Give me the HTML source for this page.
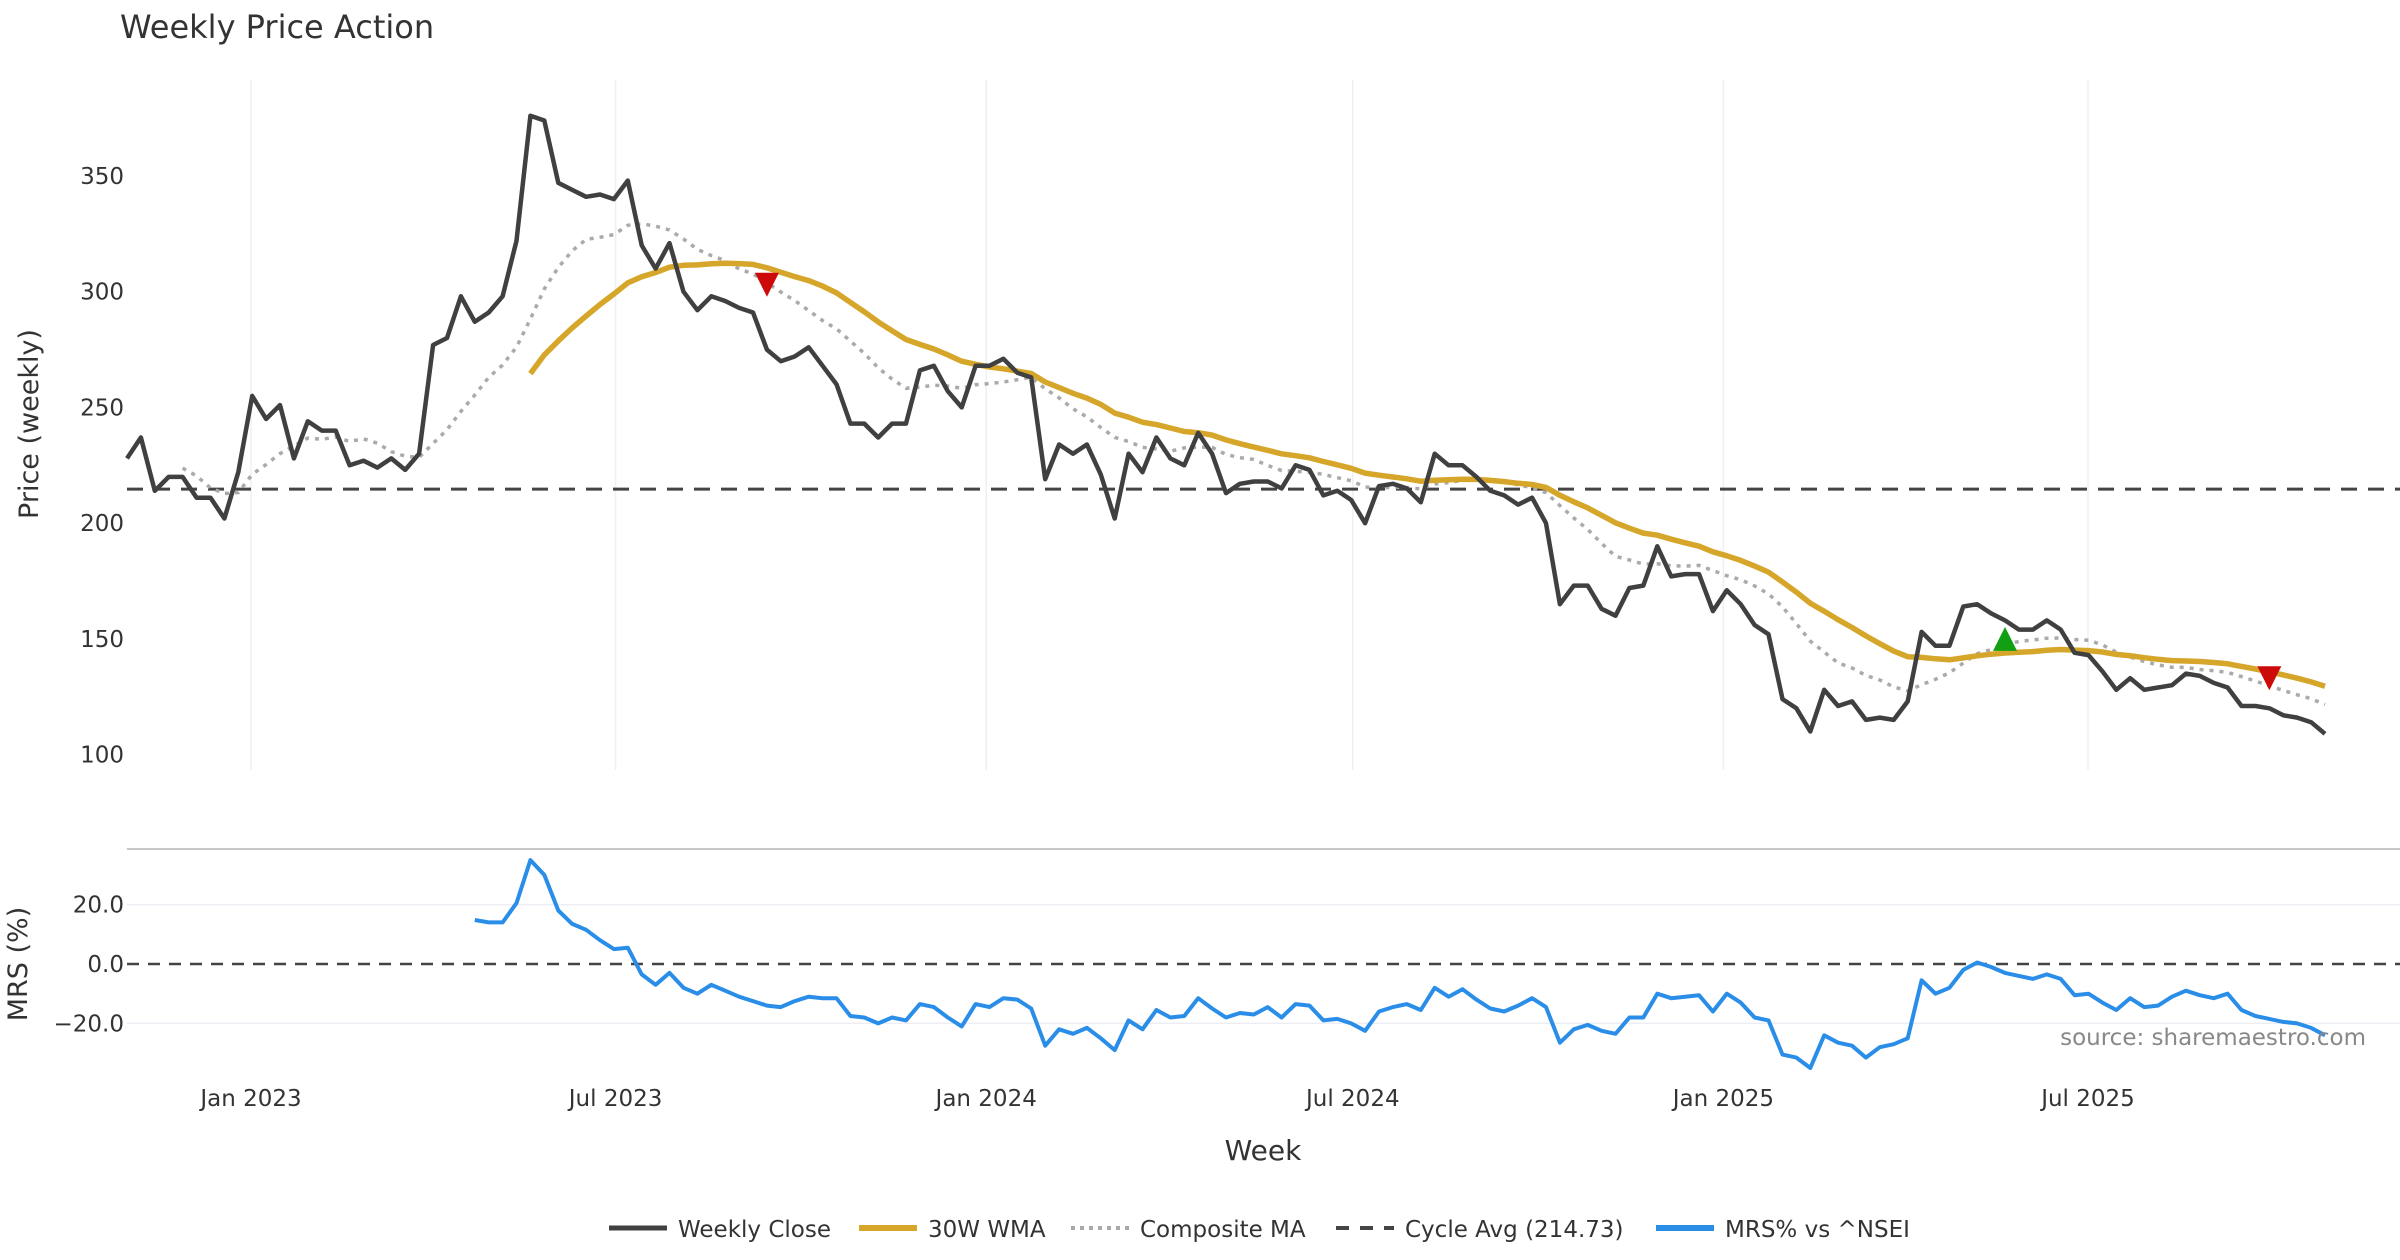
<!DOCTYPE html>
<html><head><meta charset="utf-8"><style>
html,body{margin:0;padding:0;background:#fff;}
svg{display:block;font-family:"DejaVu Sans","Liberation Sans",sans-serif;}
</style></head><body>
<svg id="chart" width="2400" height="1260" viewBox="0 0 2400 1260" xmlns="http://www.w3.org/2000/svg">
<text x="120" y="38" font-size="32" fill="#333">Weekly Price Action</text>
<g id="grid"></g><g id="marks"></g><g id="axes"></g>
</svg>
<script>
const closes=[228,237,214,220,220,211,211,202,222,255,245,251,228,244,240,240,225,227,224,228,223,230,277,280,298,287,291,298,322,376,374,347,344,341,342,340,348,320,310,321,300,292,298,296,293,291,275,270,272,276,268,260,243,243,237,243,243,266,268,257,250,268,268,271,265,263,219,234,230,234,221,202,230,222,237,228,225,239,230,213,217,218,218,215,225,223,212,214,210,200,216,217,215,209,230,225,225,220,214,212,208,211,200,165,173,173,163,160,172,173,190,177,178,178,162,171,165,156,152,124,120,110,128,121,123,115,116,115,123,153,147,147,164,165,161,158,154,154,158,154,144,143,136,128,133,128,129,130,135,134,131,129,121,121,120,117,116,114,109];
const mrsStart=25;
const mrs=[14.8,14,14,20.5,35,30,18,13.5,11.5,8,5,5.5,-3.5,-7,-3,-8,-10,-7,-9,-11,-12.5,-14,-14.5,-12.5,-11,-11.5,-11.5,-17.5,-18,-20,-18,-19,-13.5,-14.5,-18,-21,-13.5,-14.5,-11.5,-12,-15,-27.5,-22,-23.5,-21.5,-25,-29,-19,-22,-15.5,-18,-17.5,-11.5,-15,-18,-16.5,-17,-14.5,-18,-13.5,-14,-19,-18.5,-20,-22.5,-16,-14.5,-13.5,-15.5,-8,-11,-8.5,-12,-15,-16,-14,-11.5,-14.5,-26.5,-22,-20.5,-22.5,-23.5,-18,-18,-10,-11.5,-11,-10.5,-16,-10,-13,-18,-19,-30.5,-31.5,-35,-24,-26.5,-27.5,-31.5,-28,-27,-25,-5.5,-10,-8,-2,0.5,-1,-3,-4,-5,-3.5,-5,-10.5,-10,-13,-15.5,-11.5,-14.5,-14,-11,-9,-10.5,-11.5,-10,-15.5,-17.5,-18.5,-19.5,-20,-21.5,-24];
const cycleAvg=214.73;
const priceTicks=[100,150,200,250,300,350];
const mrsTicks=[-20,0,20];
const xTickLabels=["Jan 2023","Jul 2023","Jan 2024","Jul 2024","Jan 2025","Jul 2025"];
const xTickDates=["2023-01-01","2023-07-01","2024-01-01","2024-07-01","2025-01-01","2025-07-01"];
const markerIdx=[46,135,154];
const markerPrice=[303,150,133];
const markerType=["sell","buy","sell"];

const NS="http://www.w3.org/2000/svg";
const X0=127,X1=2325,N=closes.length;
function xi(i){return X0+i*(X1-X0)/(N-1);}
function yp(v){return 176+(350-v)*(754.6-176)/250;}
function ym(v){return 964-v*(964-904.6)/20;}
const d0=Date.parse("2023-01-01"),d1=Date.parse("2025-07-01");
function xd(s){return 251+(Date.parse(s)-d0)/(d1-d0)*(2088-251);}
function el(tag,attrs,parent){const e=document.createElementNS(NS,tag);for(const k in attrs)e.setAttribute(k,attrs[k]);(parent||document.getElementById('marks')).appendChild(e);return e;}
function path(pts){return pts.map((p,k)=>(k?'L':'M')+p[0].toFixed(1)+','+p[1].toFixed(1)).join('');}
const grid=document.getElementById('grid'),axes=document.getElementById('axes');

xTickDates.forEach((d,k)=>{
  const x=xd(d);
  let g=el('line',{x1:x,x2:x,y1:80,y2:770,stroke:'#edf0f4','stroke-width':1.5},grid);
  
  
  let t=el('text',{x:x,y:1106,'font-size':23,fill:'#333','text-anchor':'middle'},axes);
  t.textContent=xTickLabels[k];
  
  
});
priceTicks.forEach(v=>{
  let t=el('text',{x:124,y:yp(v)+8,'font-size':23,fill:'#333','text-anchor':'end'},axes);
  t.textContent=v;
  
  
});
mrsTicks.forEach(v=>{
  if(v!==0){let g=el('line',{x1:127,x2:2400,y1:ym(v),y2:ym(v),stroke:'#eceef4','stroke-width':1.5},grid);
  
  }
  let t=el('text',{x:124,y:ym(v)+8,'font-size':23,fill:'#333','text-anchor':'end'},axes);
  t.textContent=v.toFixed(1).replace('-','\u2212');
  
  
});
let sep=el('line',{x1:127,x2:2400,y1:849,y2:849,stroke:'#c8c8c8','stroke-width':2},grid);


let z=el('line',{x1:127,x2:2400,y1:ym(0),y2:ym(0),stroke:'#444','stroke-width':2.5,'stroke-dasharray':'12 9'},grid);



let yt=el('text',{x:0,y:0,'font-size':27,fill:'#333','text-anchor':'middle',transform:'translate(38,424) rotate(-90)'},axes);
yt.textContent='Price (weekly)';


let mt=el('text',{x:0,y:0,'font-size':27,fill:'#333','text-anchor':'middle',transform:'translate(27,964) rotate(-90)'},axes);
mt.textContent='MRS (%)';


let xt=el('text',{x:1263,y:1160,'font-size':28,fill:'#333','text-anchor':'middle'},axes);
xt.textContent='Week';


let src=el('text',{x:2366,y:1045,'font-size':23,fill:'#888','text-anchor':'end'},axes);
src.textContent='source: sharemaestro.com';



let cy=el('line',{x1:127,x2:2400,y1:yp(cycleAvg),y2:yp(cycleAvg),stroke:'#444','stroke-width':3,'stroke-dasharray':'16 11'});



function sma(i,n){if(i<n-1)return null;let s=0;for(let k=i-n+1;k<=i;k++)s+=closes[k];return s/n;}
const compPts=[];
for(let i=4;i<N;i++){const a=[sma(i,5),sma(i,10),sma(i,20)].filter(v=>v!==null);compPts.push([xi(i),yp(a.reduce((p,q)=>p+q,0)/a.length)]);}
let cp=el('path',{d:path(compPts),fill:'none',stroke:'#aaaaaa','stroke-width':3.5,'stroke-dasharray':'4 6'});



const wmaPts=[];
for(let i=29;i<N;i++){let s=0,w=0;for(let k=0;k<30;k++){s+=closes[i-29+k]*(k+1);w+=k+1;}wmaPts.push([xi(i),yp(s/w)]);}
let wp=el('path',{d:path(wmaPts),fill:'none',stroke:'#d6a62a','stroke-width':5.5,'stroke-linejoin':'round'});



let clp=el('path',{d:path(closes.map((v,i)=>[xi(i),yp(v)])),fill:'none',stroke:'#404040','stroke-width':4.5,'stroke-linejoin':'round'});



markerIdx.forEach((idx,k)=>{
  const x=xi(idx),y=yp(markerPrice[k]),s=12;
  const d=markerType[k]==='sell'?`M${x-s},${y-s}L${x+s},${y-s}L${x},${y+s}Z`:`M${x-s},${y+s}L${x+s},${y+s}L${x},${y-s}Z`;
  let m=el('path',{d:d,fill:markerType[k]==='sell'?'#cc0a0a':'#12a012'});
  
  
});

let mp=el('path',{d:path(mrs.map((v,k)=>[xi(mrsStart+k),ym(v)])),fill:'none',stroke:'#2a8ee8','stroke-width':4,'stroke-linejoin':'round'});



const lg=el('g',{},axes);


const legItems=[['Weekly Close',609,'#404040',5,''],['30W WMA',859,'#d6a62a',6,''],['Composite MA',1071,'#aaaaaa',4,'4 5'],['Cycle Avg (214.73)',1336,'#444',4,'13 11'],['MRS% vs ^NSEI',1656,'#2a8ee8',6,'']];
legItems.forEach(it=>{
  let l=el('line',{x1:it[1],x2:it[1]+58,y1:1228,y2:1228,stroke:it[2],'stroke-width':it[3],'stroke-dasharray':it[4]},lg);
  
  
  let t=el('text',{x:it[1]+69,y:1237,'font-size':23,fill:'#333'},lg);
  t.textContent=it[0];
  
  
});
</script>
</body></html>
